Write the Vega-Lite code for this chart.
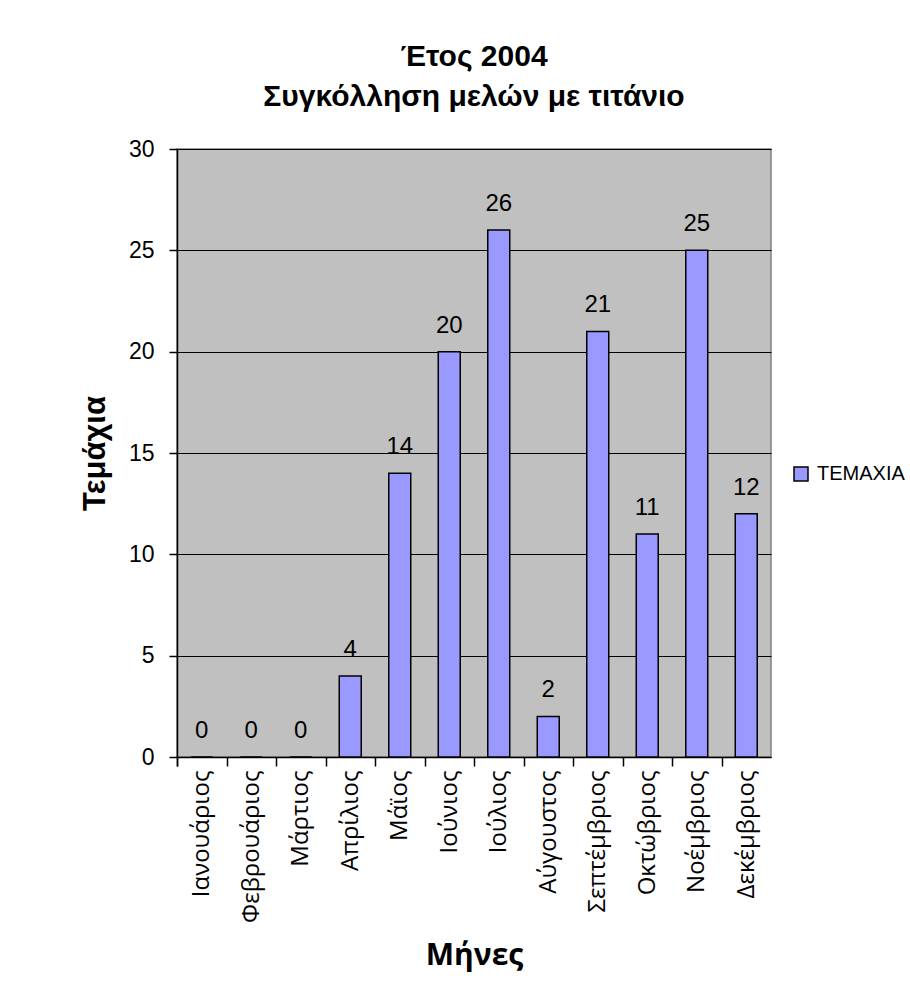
{
  "$schema": "https://vega.github.io/schema/vega-lite/v6.json",
  "width": 594,
  "height": 608,
  "autosize": {"type": "none"},
  "padding": {"left": 177, "top": 149, "right": 139, "bottom": 236},
  "background": "white",
  "title": {
    "text": ["Έτος 2004", "Συγκόλληση μελών με τιτάνιο"],
    "font": "Liberation Sans",
    "fontSize": 30,
    "fontWeight": "bold",
    "color": "black",
    "anchor": "middle",
    "offset": 26,
    "lineHeight": 40
  },
  "data": {
    "values": [
      {"month": "Ιανουάριος", "count": 0, "series": "ΤΕΜΑΧΙΑ"},
      {"month": "Φεβρουάριος", "count": 0, "series": "ΤΕΜΑΧΙΑ"},
      {"month": "Μάρτιος", "count": 0, "series": "ΤΕΜΑΧΙΑ"},
      {"month": "Απρίλιος", "count": 4, "series": "ΤΕΜΑΧΙΑ"},
      {"month": "Μάϊος", "count": 14, "series": "ΤΕΜΑΧΙΑ"},
      {"month": "Ιούνιος", "count": 20, "series": "ΤΕΜΑΧΙΑ"},
      {"month": "Ιούλιος", "count": 26, "series": "ΤΕΜΑΧΙΑ"},
      {"month": "Αύγουστος", "count": 2, "series": "ΤΕΜΑΧΙΑ"},
      {"month": "Σεπτέμβριος", "count": 21, "series": "ΤΕΜΑΧΙΑ"},
      {"month": "Οκτώβριος", "count": 11, "series": "ΤΕΜΑΧΙΑ"},
      {"month": "Νοέμβριος", "count": 25, "series": "ΤΕΜΑΧΙΑ"},
      {"month": "Δεκέμβριος", "count": 12, "series": "ΤΕΜΑΧΙΑ"}
    ]
  },
  "encoding": {
    "x": {
      "field": "month",
      "type": "nominal",
      "sort": null,
      "scale": {"paddingInner": 0.556, "paddingOuter": 0.278},
      "axis": {
        "title": "Μήνες",
        "titleFont": "Open Sans",
        "titleFontSize": 30,
        "titleFontWeight": "bold",
        "titleColor": "black",
        "titlePadding": 18,
        "labelAngle": -90,
        "labelFont": "Open Sans",
        "labelFontSize": 24,
        "labelColor": "black",
        "labelPadding": 4,
        "bandPosition": 0,
        "tickExtra": true,
        "tickOffset": -13.75,
        "labelOffset": 13.75,
        "tickColor": "black",
        "tickSize": 9,
        "tickWidth": 1.5,
        "domainColor": "black",
        "domainWidth": 1.5,
        "grid": false
      }
    },
    "y": {
      "field": "count",
      "type": "quantitative",
      "scale": {"domain": [0, 30]},
      "axis": {
        "title": "Τεμάχια",
        "titleFont": "Liberation Sans",
        "titleFontSize": 31,
        "titleFontWeight": "bold",
        "titleColor": "black",
        "titlePadding": 17,
        "values": [0, 5, 10, 15, 20, 25, 30],
        "labelFont": "Liberation Sans",
        "labelFontSize": 23,
        "labelColor": "black",
        "labelPadding": 15,
        "tickSize": 8,
        "tickColor": "black",
        "tickWidth": 1.5,
        "domainColor": "black",
        "domainWidth": 1.5,
        "grid": true,
        "gridColor": "black",
        "gridWidth": 1,
        "gridOpacity": 1
      }
    }
  },
  "layer": [
    {
      "mark": {"type": "bar", "stroke": "black", "strokeWidth": 1.5},
      "encoding": {
        "color": {
          "field": "series",
          "type": "nominal",
          "scale": {"range": ["#9999FF"]},
          "legend": {
            "orient": "none",
            "legendX": 614,
            "legendY": 315,
            "title": null,
            "padding": 0,
            "symbolType": "square",
            "symbolSize": 196,
            "symbolStrokeColor": "black",
            "symbolStrokeWidth": 1.5,
            "symbolOpacity": 1,
            "labelFont": "Liberation Sans",
            "labelFontSize": 20,
            "labelColor": "black",
            "labelOffset": 6
          }
        }
      }
    },
    {
      "mark": {
        "type": "text",
        "font": "Liberation Sans",
        "fontSize": 24,
        "color": "black",
        "baseline": "alphabetic",
        "dy": -19
      },
      "encoding": {"text": {"field": "count", "type": "quantitative"}}
    }
  ],
  "config": {
    "view": {"fill": "#C0C0C0", "stroke": "#808080", "strokeWidth": 1.5}
  }
}
